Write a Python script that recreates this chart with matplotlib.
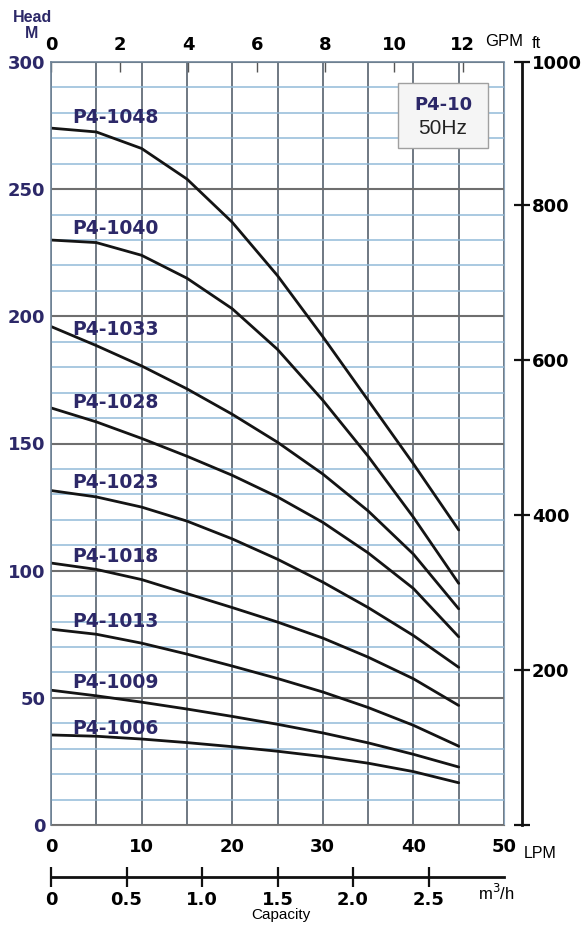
import matplotlib
matplotlib.use('Agg')
import matplotlib.pyplot as plt
from matplotlib.patches import Rectangle
from matplotlib.ticker import FixedLocator, FixedFormatter, MultipleLocator

# flow in LPM, head in m
lpm = [0, 5, 10, 15, 20, 25, 30, 35, 40, 45]
models = ['P4-1048', 'P4-1040', 'P4-1033', 'P4-1028', 'P4-1023',
          'P4-1018', 'P4-1013', 'P4-1009', 'P4-1006']
head_1048 = [274, 272.5, 266, 254, 237, 216, 192, 167, 142, 116]
head_1040 = [230, 229, 224, 215, 203, 187, 167, 145, 121, 95]
head_1033 = [196, 188.5, 180.5, 171.5, 161.5, 150.5, 138, 123.5, 106.5, 85]
head_1028 = [164, 158.5, 152, 145, 137.5, 129, 119, 107, 93, 74]
head_1023 = [131.5, 129, 125, 119.5, 112.5, 104.5, 95.5, 85.5, 74.5, 62]
head_1018 = [103, 100.5, 96.5, 91, 85.5, 79.8, 73.5, 66, 57.5, 47]
head_1013 = [77, 75, 71.5, 67.2, 62.5, 57.6, 52.3, 46.2, 39.2, 31]
head_1009 = [53, 50.8, 48.3, 45.6, 42.7, 39.6, 36.2, 32.3, 27.8, 22.8]
head_1006 = [35.4, 34.9, 33.8, 32.4, 30.8, 29, 26.9, 24.3, 21, 16.6]
heads = [head_1048, head_1040, head_1033, head_1028, head_1023,
         head_1018, head_1013, head_1009, head_1006]
# where the model names sit (head, m)
label_head = [278, 234.5, 195, 166, 134.5, 105.5, 80, 56, 38]

gpm_ticks = [0, 2, 4, 6, 8, 10, 12]
ft_ticks = [0, 200, 400, 600, 800]
m3h_ticks = [0, 0.5, 1.0, 1.5, 2.0, 2.5]

navy = '#2c2868'
W, H = 581, 927

def fx(x):
    return x / W

def fy(y):
    return 1 - y / H

fig = plt.figure(figsize=(W / 100, H / 100), dpi=100)
ax = fig.add_axes([fx(51), fy(825), (504 - 51) / W, (825 - 62) / H])
ax.set_xlim(0, 50)
ax.set_ylim(0, 300)

# grid
ax.xaxis.set_major_locator(MultipleLocator(10))
ax.xaxis.set_minor_locator(MultipleLocator(5))
ax.yaxis.set_major_locator(MultipleLocator(50))
ax.yaxis.set_minor_locator(MultipleLocator(10))
ax.grid(which='minor', axis='y', color='#92bad8', lw=1.1)
ax.grid(which='major', axis='y', color='#6e6e6e', lw=1.5)
ax.grid(which='both', axis='x', color='#56616d', lw=1.2)
ax.set_axisbelow(True)
for s in ['left', 'top']:
    ax.spines[s].set_color('#6f8498')
    ax.spines[s].set_linewidth(1.2)
ax.spines['bottom'].set_color('#777777')
ax.spines['right'].set_color('#8da5bb')

ax.tick_params(axis='both', which='both', length=0)
ax.tick_params(axis='x', pad=9, labelsize=13)
ax.tick_params(axis='y', pad=4, labelsize=13, labelcolor=navy)
for t in ax.get_xticklabels() + ax.get_yticklabels():
    t.set_fontweight('bold')

# curves
for name, h, ly in zip(models, heads, label_head):
    ax.plot(lpm, h, color='#141414', lw=2.0, solid_capstyle='round',
            solid_joinstyle='round')
    ax.text(2.4, ly, name, fontsize=13.5, fontweight='bold', color=navy,
            ha='left', va='center')

# GPM on top
top = ax.secondary_xaxis('top', functions=(lambda x: x / 3.78541,
                                           lambda x: x * 3.78541))
top.set_xticks(gpm_ticks)
top.tick_params(direction='in', length=7, width=1, color='#555555', pad=6,
                labelsize=13)
top.spines['top'].set_visible(False)
for t in top.get_xticklabels():
    t.set_fontweight('bold')

# ft on right
ft_top = 300 * 3.28084
right = ax.secondary_yaxis((522 - 51) / (504 - 51),
                           functions=(lambda m: m * 3.28084,
                                      lambda f: f / 3.28084))
right.yaxis.set_major_locator(FixedLocator(ft_ticks + [ft_top]))
right.yaxis.set_major_formatter(FixedFormatter(['', '200', '400', '600', '800', '1000']))
right.tick_params(direction='inout', length=12, width=1.6, color='#111111',
                  pad=1, labelsize=13)
right.spines['right'].set_linewidth(2)
right.spines['right'].set_color('#111111')
for t in right.get_yticklabels():
    t.set_fontweight('bold')

# m3/h under the plot
bot = ax.secondary_xaxis(-(877 - 825) / (825 - 62),
                         functions=(lambda x: x * 0.06, lambda x: x / 0.06))
bot.set_xticks(m3h_ticks)
bot.set_xticklabels(['0', '0.5', '1.0', '1.5', '2.0', '2.5'])
bot.tick_params(direction='inout', length=14, width=1.6, color='#111111',
                pad=3, labelsize=13)
for s in bot.spines.values():
    s.set_linewidth(2)
    s.set_color('#111111')
for t in bot.get_xticklabels():
    t.set_fontweight('bold')

# unit texts
fig.text(fx(32), fy(18), 'Head', fontsize=11.5, fontweight='bold', color=navy,
         ha='center', va='center', family='Liberation Sans')
fig.text(fx(32), fy(34), 'M', fontsize=11.5, fontweight='bold', color=navy,
         ha='center', va='center', family='Liberation Sans')
fig.text(fx(485), fy(42), 'GPM', fontsize=12, ha='left', va='center',
         family='Liberation Sans')
fig.text(fx(532), fy(44), 'ft', fontsize=12, ha='left', va='center',
         family='Liberation Sans')
fig.text(fx(524), fy(853), 'LPM', fontsize=11.5, ha='left', va='center',
         family='Liberation Sans')
fig.text(fx(478), fy(893), 'm$^3$/h', fontsize=12, ha='left', va='center',
         family='Liberation Sans')
fig.text(fx(281), fy(915), 'Capacity', fontsize=11, ha='center', va='center',
         family='Liberation Sans')

# model box
fig.patches.append(Rectangle((fx(398), fy(148)), (488 - 398) / W, (148 - 83) / H,
                             transform=fig.transFigure, facecolor='#f5f5f5',
                             edgecolor='#a0a0a0', lw=1, zorder=5))
fig.text(fx(443), fy(105), 'P4-10', fontsize=13, fontweight='bold', color=navy,
         ha='center', va='center', zorder=6)
fig.text(fx(443), fy(129), '50Hz', fontsize=15, color='#222222',
         ha='center', va='center', family='Liberation Sans', zorder=6)

fig.savefig('out.png', dpi=100)
